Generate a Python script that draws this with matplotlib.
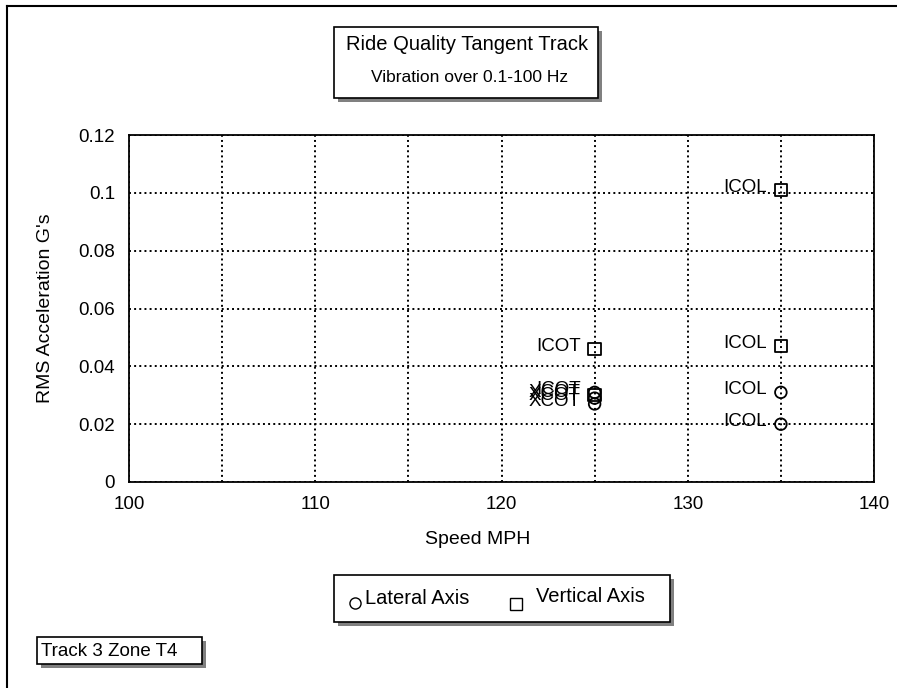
import matplotlib.pyplot as plt
from matplotlib.patches import Rectangle

plt.rcParams['font.family'] = ['Liberation Sans', 'DejaVu Sans']

# data
lat_speed = [125, 125, 125, 135, 135]
lat_rms = [0.031, 0.029, 0.027, 0.031, 0.020]
lat_names = ['ICOT', 'XCOT', 'XCOT', 'ICOL', 'ICOL']

vert_speed = [125, 125, 135, 135]
vert_rms = [0.046, 0.030, 0.101, 0.047]
vert_names = ['ICOT', 'XCOT', 'ICOL', 'ICOL']

x_ticks = [100, 110, 120, 130, 140]
y_ticks = [0, 0.02, 0.04, 0.06, 0.08, 0.1, 0.12]
y_tick_labels = ['0', '0.02', '0.04', '0.06', '0.08', '0.1', '0.12']

fig = plt.figure(figsize=(8.97, 6.88), dpi=100)
W, H = 897, 688

def fx(px):
    return px / W

def fy(py):
    return 1 - py / H

ax = fig.add_axes([fx(129), fy(482), fx(874) - fx(129), fy(135) - fy(482)])

ax.scatter(lat_speed, lat_rms, s=70, marker='o', facecolors='none',
           edgecolors='black', linewidths=1.3, zorder=3)
ax.scatter(vert_speed, vert_rms, s=80, marker='s', facecolors='none',
           edgecolors='black', linewidths=1.3, zorder=3)

for x, y, t in zip(lat_speed + vert_speed, lat_rms + vert_rms, lat_names + vert_names):
    ax.annotate(t, (x, y), xytext=(-10, 2), textcoords='offset points',
                ha='right', va='center', fontsize=13.5)

ax.set_xlim(100, 140)
ax.set_ylim(0, 0.12)
ax.set_xticks(x_ticks)
ax.set_yticks(y_ticks)
ax.set_yticklabels(y_tick_labels)
ax.set_xticks([105, 115, 125, 135], minor=True)
ax.tick_params(which='both', length=0, labelsize=13.5, colors='black')
ax.tick_params(axis='x', pad=10)
ax.tick_params(axis='y', pad=10)
ax.grid(True, which='both', color='black', linestyle=':', linewidth=1.4)
for s in ax.spines.values():
    s.set_linewidth(1.3)
    s.set_color('black')

fig.text(fx(478), fy(540), 'Speed MPH', ha='center', va='center', fontsize=14)
fig.text(fx(45), fy(308), "RMS Acceleration G's", ha='center', va='center',
         rotation=90, fontsize=14)


def shadow_box(x0, y0, x1, y1):
    # grey drop shadow, then white box with black edge (pixel coords)
    fig.patches.append(Rectangle((fx(x0 + 4), fy(y1 + 4)), fx(x1 - x0), fy(y0) - fy(y1),
                                 transform=fig.transFigure, facecolor='#808080',
                                 edgecolor='none', zorder=1))
    fig.patches.append(Rectangle((fx(x0), fy(y1)), fx(x1 - x0), fy(y0) - fy(y1),
                                 transform=fig.transFigure, facecolor='white',
                                 edgecolor='black', linewidth=1.2, zorder=2))


# title box
shadow_box(334, 27, 598, 98)
fig.text(fx(467), fy(45), 'Ride Quality Tangent Track', ha='center', va='center',
         fontsize=14.5, zorder=3)
fig.text(fx(470), fy(78), 'Vibration over 0.1-100 Hz', ha='center', va='center',
         fontsize=12.5, zorder=3)

# legend box
shadow_box(334, 575, 670, 622)
fig.lines.append(plt.Line2D([fx(355)], [fy(603)], marker='o', markersize=8,
                            markerfacecolor='none', markeredgecolor='black',
                            transform=fig.transFigure, zorder=3))
fig.text(fx(365), fy(598), 'Lateral Axis', ha='left', va='center', fontsize=14.5, zorder=3)
fig.lines.append(plt.Line2D([fx(516)], [fy(604)], marker='s', markersize=8,
                            markerfacecolor='none', markeredgecolor='black',
                            transform=fig.transFigure, zorder=3))
fig.text(fx(536), fy(596), 'Vertical Axis', ha='left', va='center', fontsize=14.5, zorder=3)

# track box
shadow_box(37, 637, 202, 664)
fig.text(fx(41), fy(651), 'Track 3 Zone T4', ha='left', va='center', fontsize=13.5, zorder=3)

# outer frame (left and top edges visible)
fig.lines.append(plt.Line2D([fx(7), fx(7)], [0, fy(6)], color='black', linewidth=1.5,
                            transform=fig.transFigure))
fig.lines.append(plt.Line2D([fx(7), 1], [fy(6), fy(6)], color='black', linewidth=1.5,
                            transform=fig.transFigure))

plt.savefig('out.png', dpi=100)
